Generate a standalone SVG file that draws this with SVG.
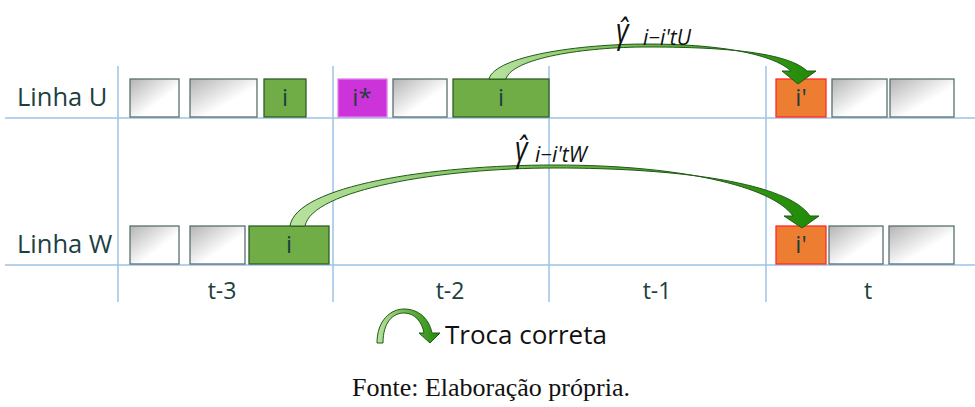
<svg xmlns="http://www.w3.org/2000/svg" width="975" height="407" viewBox="0 0 975 407">
<style>
.lbl{font-family:"Open Sans","Noto Sans",sans-serif;fill:#1c3f3f;font-size:25.5px}
.tl{font-family:"Open Sans","Noto Sans",sans-serif;fill:#1c3f3f;font-size:23px;text-anchor:middle}
.bx{font-family:"Open Sans","Noto Sans",sans-serif;fill:#1c3f3f;font-size:24px;text-anchor:middle}
.grid{stroke:#9dc3e6;stroke-width:1.5;fill:none}
.gray{fill:url(#gg);stroke:#56706f;stroke-width:1.3}
.green{fill:#70ad47;stroke:#2f5f27;stroke-width:1.3}
.mag{fill:#cc33d9;stroke:#e080ea;stroke-width:1.3}
.org{fill:#ed7d31;stroke:#ff2a2a;stroke-width:1.3}
.arr{fill:url(#ag);stroke:#1f5a14;stroke-width:1}
.math{font-family:"Open Sans","DejaVu Sans",sans-serif;font-style:italic;fill:#111}
</style>
<defs>
<linearGradient id="gg" x1="0" y1="0" x2="1" y2="1">
<stop offset="0" stop-color="#b4b4b4"/>
<stop offset="0.6" stop-color="#ffffff"/>
<stop offset="1" stop-color="#ffffff"/>
</linearGradient>
<linearGradient id="ag" x1="0" y1="0" x2="1" y2="0">
<stop offset="0" stop-color="#b9e3a0"/>
<stop offset="0.5" stop-color="#6cb24a"/>
<stop offset="1" stop-color="#1f8a05"/>
</linearGradient>
</defs>
<g id="grid">
<line class="grid" x1="5" y1="118" x2="975" y2="118"/>
<line class="grid" x1="5" y1="265" x2="975" y2="265"/>
<line class="grid" x1="118" y1="66" x2="118" y2="302"/>
<line class="grid" x1="333" y1="66" x2="333" y2="302"/>
<line class="grid" x1="549" y1="66" x2="549" y2="302"/>
<line class="grid" x1="766" y1="66" x2="766" y2="302"/>
</g>
<g id="row-labels">
<text class="lbl" x="17" y="106">Linha U</text>
<text class="lbl" x="17" y="253">Linha W</text>
</g>
<g id="time-labels">
<text class="tl" x="222" y="299">t-3</text>
<text class="tl" x="450" y="299">t-2</text>
<text class="tl" x="657" y="299">t-1</text>
<text class="tl" x="868" y="299">t</text>
</g>
<g id="rowU">
<g id="u1"><rect class="gray" x="130" y="79" width="49" height="38"/></g>
<g id="u2"><rect class="gray" x="190" y="79" width="67" height="38"/></g>
<g id="u3"><rect class="green" x="264" y="79" width="42" height="38"/><text class="bx" x="285" y="106">i</text></g>
<g id="u4"><rect class="mag" x="338" y="79" width="49" height="38"/><text class="bx" x="362" y="106">i*</text></g>
<g id="u5"><rect class="gray" x="393" y="79" width="54" height="38"/></g>
<g id="u6"><rect class="green" x="453" y="79" width="96" height="38"/><text class="bx" x="501" y="106">i</text></g>
<g id="u7"><rect class="org" x="776" y="79" width="50" height="38"/><text class="bx" x="801" y="106">i'</text></g>
<g id="u8"><rect class="gray" x="832" y="79" width="55" height="38"/></g>
<g id="u9"><rect class="gray" x="890" y="79" width="64" height="38"/></g>
</g>
<g id="rowW">
<g id="w1"><rect class="gray" x="130" y="226" width="49" height="38"/></g>
<g id="w2"><rect class="gray" x="190" y="226" width="55" height="38"/></g>
<g id="w3"><rect class="green" x="249" y="226" width="80" height="38"/><text class="bx" x="289" y="253">i</text></g>
<g id="w4"><rect class="org" x="776" y="226" width="50" height="38"/><text class="bx" x="801" y="253">i'</text></g>
<g id="w5"><rect class="gray" x="829" y="226" width="54" height="38"/></g>
<g id="w6"><rect class="gray" x="889" y="226" width="65" height="38"/></g>
</g>
<g id="connectors">
<path class="arr" d="M489,79 C495,56 580,44 647,44 C715,44 772,53 791,71 L782,71 L798,84 L816,71 L807,71 C786,51 715,47 647,47 C585,47 512,58 506,79 Z"/>
<path class="arr" d="M290,226 C296,186 430,165 555,165 C680,165 772,186 793,216 L784,216 L802,228 L819,216 L810,216 C788,183 680,168 555,168 C440,168 312,190 305,226 Z"/>
</g>
<g id="math-labels">
<text class="math" x="616" y="43" font-size="34" transform="translate(616,43) scale(0.8,1) translate(-616,-43)">γ̂</text>
<text class="math" x="643" y="45" font-size="21">i−i'tU</text>
<text class="math" x="515" y="161" font-size="34" transform="translate(515,161) scale(0.8,1) translate(-515,-161)">γ̂</text>
<text class="math" x="535" y="162" font-size="21">i−i'tW</text>
</g>
<g id="legend">
<path class="arr" d="M383,343 C383,322 393,313 404,313 C415,313 422,322 424,333 L419,333 L430,343 L440,333 L432,333 C429,318 418,309 404,309 C391,309 377,320 377,343 Z"/>
<text x="445" y="344" font-family="Open Sans,Noto Sans,sans-serif" font-size="26" fill="#111">Troca correta</text>
</g>
<text x="352" y="396" font-family="Liberation Serif,serif" font-size="26" fill="#111">Fonte: Elaboração própria.</text>
</svg>
